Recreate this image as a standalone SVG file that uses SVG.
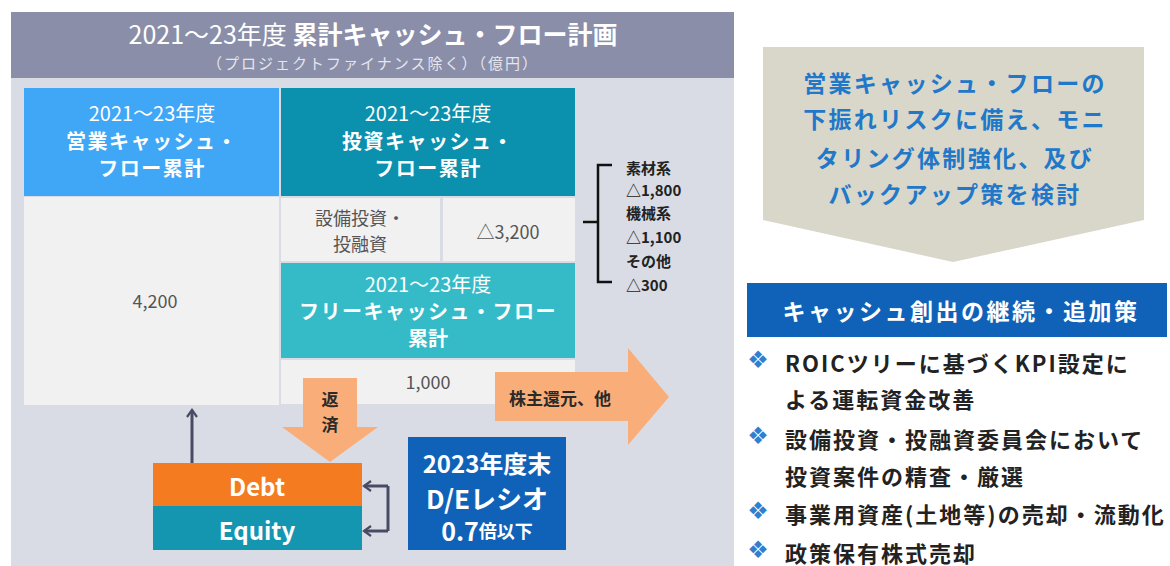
<svg xmlns="http://www.w3.org/2000/svg" width="1170" height="566" viewBox="0 0 1170 566">
<style>
.jp{font-family:"Noto Sans CJK JP","Noto Sans",sans-serif}
.w{fill:#ffffff}
.b{font-weight:bold}
.c{text-anchor:middle;dominant-baseline:central}
.hd{font-size:20px}
.cell{fill:#f1f1f2}
.gt{fill:#555555;font-size:18px}
.br{font-size:15px;font-weight:bold;fill:#222;dominant-baseline:central}
.bl{font-size:22px;font-weight:bold;fill:#222;letter-spacing:2px;dominant-baseline:central}
.dm{font-family:"DejaVu Sans",sans-serif;font-size:24px;fill:#2f7fd0;dominant-baseline:central;text-anchor:middle}
.con{fill:none;stroke:#474c64;stroke-width:3}
</style>
<defs>
<marker id="chev" viewBox="0 0 12 12" refX="9" refY="6" markerWidth="4" markerHeight="4" orient="auto" markerUnits="strokeWidth">
<path d="M2,1 L9,6 L2,11" fill="none" stroke="#474c64" stroke-width="2.2"/>
</marker>
</defs>
<rect width="1170" height="566" fill="#ffffff"/>
<g id="panel">
<rect x="11" y="12" width="723" height="554" fill="#d9dce4"/>
<rect x="11" y="12" width="723" height="66" fill="#8a8ea9"/>
<text class="jp w c" x="373" y="33" font-size="25"><tspan>2021～23年度 </tspan><tspan font-weight="bold">累計キャッシュ・フロー計画</tspan></text>
<text class="jp c" x="373" y="62" font-size="15" fill="#e6e6ee" letter-spacing="2">（プロジェクトファイナンス除く）（億円）</text>
</g>
<g id="operating-cf">
<rect x="24" y="88" width="255" height="108" fill="#40a6f6"/>
<rect class="cell" x="24" y="197" width="255" height="208"/>
<text class="jp w c hd" x="152" y="112">2021～23年度</text>
<text class="jp w c hd b" x="152" y="140" letter-spacing="1.5">営業キャッシュ・</text>
<text class="jp w c hd b" x="152" y="167" letter-spacing="1.5">フロー累計</text>
<text class="jp c gt" x="155" y="300">4,200</text>
</g>
<g id="investing-cf">
<rect x="281" y="88" width="294" height="108" fill="#0b90ad"/>
<text class="jp w c hd" x="428" y="112">2021～23年度</text>
<text class="jp w c hd b" x="428" y="140" letter-spacing="1.5">投資キャッシュ・</text>
<text class="jp w c hd b" x="428" y="167" letter-spacing="1.5">フロー累計</text>
<rect class="cell" x="281" y="198" width="159" height="63"/>
<rect class="cell" x="443" y="198" width="132" height="63"/>
<text class="jp c gt" x="360" y="217">設備投資・</text>
<text class="jp c gt" x="360" y="243">投融資</text>
<text class="jp c gt" x="508" y="231" font-size="19">△3,200</text>
</g>
<g id="free-cf">
<rect x="281" y="263" width="294" height="95" fill="#35bbc8"/>
<text class="jp w c hd" x="428" y="283">2021～23年度</text>
<text class="jp w c hd b" x="428" y="310" letter-spacing="1.5">フリーキャッシュ・フロー</text>
<text class="jp w c hd b" x="428" y="337">累計</text>
<rect class="cell" x="281" y="360" width="294" height="44"/>
<text class="jp c gt" x="428" y="381">1,000</text>
</g>
<g id="breakdown">
<text class="jp br" x="626" y="167">素材系</text>
<text class="jp br" x="626" y="189">△1,800</text>
<text class="jp br" x="626" y="212">機械系</text>
<text class="jp br" x="626" y="236">△1,100</text>
<text class="jp br" x="626" y="260">その他</text>
<text class="jp br" x="626" y="284">△300</text>
</g>
<g id="shareholder-arrow">
<polygon points="495,372 628,372 628,348 669,397 628,445 628,421 495,421" fill="#f9ae79"/>
<text class="jp c b" x="560" y="397" font-size="17" fill="#2a2a2a">株主還元、他</text>
</g>
<g id="repay-arrow">
<polygon points="303,378 357,378 357,427 378,427 330,462 282,427 303,427" fill="#f9ae79"/>
<text class="jp c b" x="330" y="398" font-size="17" fill="#2a2a2a">返</text>
<text class="jp c b" x="330" y="423" font-size="17" fill="#2a2a2a">済</text>
</g>
<g id="debt">
<rect x="153" y="463" width="209" height="43" fill="#f47b1f"/>
<text class="jp w c b" x="257" y="485" font-size="24">Debt</text>
</g>
<g id="equity">
<rect x="153" y="506" width="209" height="44" fill="#1495b0"/>
<text class="jp w c b" x="257" y="529" font-size="24">Equity</text>
</g>
<g id="de-ratio">
<rect x="408" y="437" width="158" height="113" fill="#1062b8"/>
<text class="jp w c b" x="487" y="462" font-size="24">2023年度末</text>
<text class="jp w c b" x="487" y="497" font-size="26">D/Eレシオ</text>
<text class="jp w c b" x="487" y="530"><tspan font-size="25">0.7</tspan><tspan font-size="18">倍以下</tspan></text>
</g>
<g id="connectors">
<path d="M612,165 H598 V282 H612 M583,222 H598" fill="none" stroke="#111" stroke-width="2.5"/>
<line class="con" x1="192" y1="463" x2="192" y2="410" marker-end="url(#chev)"/>
<path class="con" d="M388,486 V531" />
<line class="con" x1="388" y1="486" x2="364" y2="486" marker-end="url(#chev)"/>
<line class="con" x1="388" y1="531" x2="364" y2="531" marker-end="url(#chev)"/>
</g>
<g id="risk-note">
<polygon points="763,47 1144,47 1144,220 953,262 763,220" fill="#d9d6ca"/>
<g class="jp c b" fill="#1f78c8" font-size="23" letter-spacing="2.3">
<text x="955" y="82">営業キャッシュ・フローの</text>
<text x="955" y="118">下振れリスクに備え、モニ</text>
<text x="955" y="157">タリング体制強化、及び</text>
<text x="955" y="193">バックアップ策を検討</text>
</g>
</g>
<g id="measures-header">
<rect x="747" y="283" width="420" height="54" fill="#0f62b8"/>
<text class="jp w c b" x="961" y="310" font-size="23" letter-spacing="2.5">キャッシュ創出の継続・追加策</text>
</g>
<g id="measures">
<text class="dm" x="758" y="360">❖</text>
<text class="jp bl" x="785" y="362">ROICツリーに基づくKPI設定に</text>
<text class="jp bl" x="785" y="398">よる運転資金改善</text>
<text class="dm" x="758" y="436">❖</text>
<text class="jp bl" x="785" y="438">設備投資・投融資委員会において</text>
<text class="jp bl" x="785" y="475">投資案件の精査・厳選</text>
<text class="dm" x="758" y="511">❖</text>
<text class="jp bl" x="785" y="513">事業用資産(土地等)の売却・流動化</text>
<text class="dm" x="758" y="550">❖</text>
<text class="jp bl" x="785" y="552">政策保有株式売却</text>
</g>
</svg>
